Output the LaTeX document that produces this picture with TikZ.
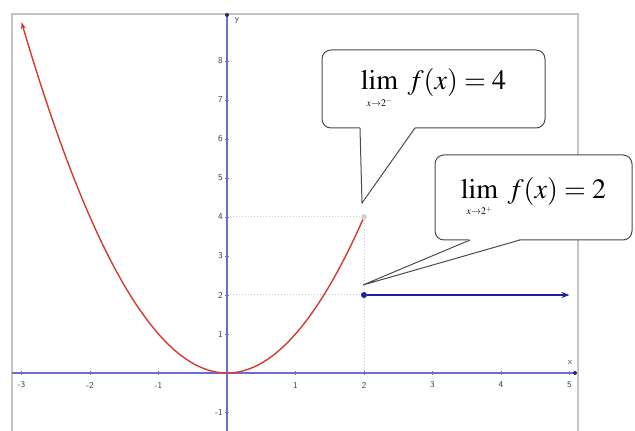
\documentclass[tikz,border=0pt]{standalone}
\usepackage{mathptmx}
\usepackage{xcolor}
\usetikzlibrary{arrows.meta}

\definecolor{axisblue}{RGB}{110,110,205}
\definecolor{curvered}{RGB}{210,60,50}
\definecolor{segblue}{RGB}{30,30,170}
\definecolor{framegray}{RGB}{195,195,195}

\newcommand{\limat}[1]{\lim\limits_{\hbox{\fontsize{10}{10}\selectfont$x{\to}2^{#1}$}}\;}

\tikzset{
  axisline/.style={axisblue,line width=1.1pt},
  guide/.style={gray!40,dotted,line width=1pt},
  ticklabel/.style={font=\sffamily\fontsize{9}{10}\selectfont,text=gray!50!black,inner sep=1pt},
  limbox/.style={draw=black!70,line width=1pt,fill=white,rounded corners=9pt,
    font=\fontsize{28}{32}\selectfont,inner sep=0pt},
  pointer/.style={draw=black!70,line width=1pt,line join=miter},
}

\begin{document}
\begin{tikzpicture}[x=68.5pt,y=39pt]
  \useasboundingbox (-227pt,-58pt) rectangle (408pt,373pt);
  % frame
  \draw[framegray,line width=1.6pt] (-215pt,-60pt) -- (-215pt,359pt) -- (351pt,359pt) -- (351pt,-60pt);
  % guides
  \draw[guide] (0,4) -- (2,4) (0,2) -- (2,2) (2,4) -- (2,0);
  % axes
  \draw[axisline] (-215pt,0) -- (348pt,0);
  \draw[axisline] (0,-60pt) -- (0,358pt);
  \fill[axisblue!40!black] (348pt,0) circle (2pt) (0,358pt) circle (2pt);
  \node[ticklabel] (xlab) at (343pt,10pt) {x};
  \node[ticklabel] (ylab) at (10pt,353pt) {y};
  \foreach \i in {-3,-2,-1,1,2,3,4,5}{
    \draw[axisline,line width=0.6pt] (\i,-2pt) -- (\i,2pt);
    \node[ticklabel] (xt\i) at (\i,-12pt) {\i};
  }
  \foreach \j in {-1,1,2,...,8}{
    \draw[axisline,line width=0.6pt] (-2pt,\j) -- (2pt,\j);
    \node[ticklabel,anchor=east] (yt\j) at (-3pt,\j) {\j};
  }
  % left piece x^2
  \draw[curvered,line width=1.4pt,-{Stealth[length=7pt,width=5pt]}]
    plot[domain=2:-3,samples=60,smooth] (\x,{\x*\x});
  \fill[gray!35] (2,4) circle (3pt);
  % right piece y=2
  \node[circle,fill=segblue,inner sep=0pt,minimum size=6pt] (p2) at (2,2) {};
  \coordinate (end2) at (5,2);
  \draw[segblue,line width=1.5pt,-{Stealth[length=8pt,width=6pt]}] (p2) -- (end2);
  % callouts
  \node[limbox,minimum width=223pt,minimum height=78pt] (lim4) at (206.5pt,284pt)
    {$\limat{-} f(x)=4$};
  \coordinate (tip4) at (135pt,170pt);
  \coordinate (b4a) at (133pt,245pt);
  \coordinate (b4b) at (188pt,245pt);
  \fill[white] ([yshift=0.8pt]b4a) -- (tip4) -- ([yshift=0.8pt]b4b) -- cycle;
  \draw[pointer] (b4a) -- (tip4) -- (b4b);
  \node[limbox,minimum width=197pt,minimum height=85pt] (lim2) at (306.5pt,175.5pt)
    {$\limat{+} f(x)=2$};
  \coordinate (tip2) at (136pt,88pt);
  \coordinate (b2a) at (243pt,133pt);
  \coordinate (b2b) at (293pt,133pt);
  \fill[white] ([yshift=0.8pt]b2a) -- (tip2) -- ([yshift=0.8pt]b2b) -- cycle;
  \draw[pointer] (b2a) -- (tip2) -- (b2b);
\end{tikzpicture}
\end{document}
